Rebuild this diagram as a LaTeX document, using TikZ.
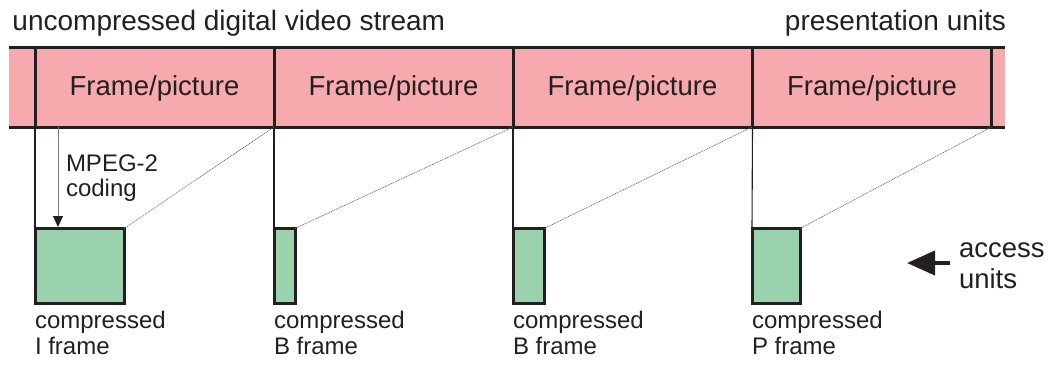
\documentclass[tikz,border=0pt]{standalone}
\usepackage{fontspec}
\setmainfont{Liberation Sans}
\usetikzlibrary{arrows.meta}
\definecolor{ink}{HTML}{231F20}
\definecolor{framepink}{HTML}{F6AAAD}
\definecolor{aufill}{HTML}{99D2AC}
\begin{document}
\begin{tikzpicture}[x=1pt,y=-1pt,
  every node/.style={inner sep=0pt,outer sep=0pt,text=ink},
  cell/.style={minimum width=239pt,minimum height=80pt,font=\fontsize{27.5}{32}\selectfont},
  au/.style={draw=ink,line width=3pt,fill=aufill,minimum height=75pt},
  thick rule/.style={draw=ink,line width=3pt},
  guide/.style={draw=ink,line width=1.1pt},
  slant/.style={draw=ink!70,line width=0.7pt,dash pattern=on 1pt off 0.8pt},
  caption/.style={anchor=base west,align=left,font=\fontsize{24}{26}\selectfont},
  heading/.style={anchor=base west,font=\fontsize{28}{33}\selectfont}
]
\useasboundingbox (0,0) rectangle (1058,365);

% presentation-unit band
\fill[framepink] (9,47) rectangle (1005,127);
\node[cell] (f1) at (154.5,87) {};
\node[cell] (f2) at (393.5,87) {};
\node[cell] (f3) at (632.5,87) {};
\node[cell] (f4) at (872,87) {};
\foreach \f in {f1,f2,f3,f4}
  \node[font=\fontsize{27.5}{32}\selectfont,anchor=base] at ([yshift=-8.5pt]\f.center) {Frame/picture};
\draw[thick rule] (9,47) -- (1005,47);
\draw[thick rule] (9,127) -- (1005,127);
\foreach \f in {f1,f2,f3,f4}
  \draw[thick rule] (\f.north west) -- (\f.south west);
\draw[thick rule] (f4.north east) -- (f4.south east);

% headings
\node[heading] (hl) at (12.5,30) {uncompressed digital video stream};
\node[heading,anchor=base east] (hr) at (1006,30) {presentation units};

% access units
\node[au,minimum width=89pt] (aI) at (79.5,266) {};
\node[au,minimum width=21pt] (aB1) at (284.5,266) {};
\node[au,minimum width=31pt] (aB2) at (528.5,266) {};
\node[au,minimum width=48pt] (aP) at (776,266) {};

% links from each picture to its coded unit
\draw[guide] (f1.south west) -- (aI.north west);
\draw[guide] (f2.south west) -- (aB1.north west);
\draw[guide] (f3.south west) -- (aB2.north west);
\draw[guide] (f4.south west) -- (aP.north west);
\draw[slant] (aI.north east) -- (f1.south east);
\draw[slant] (aB1.north east) -- (f2.south east);
\draw[slant] (aB2.north east) -- (f3.south east);
\draw[slant] (aP.north east) -- (f4.south east);

% coding step
\coordinate (cstart) at ([xshift=23pt]f1.south west);
\coordinate (cend) at ([xshift=23pt]aI.north west);
\draw[draw=ink!60,line width=1pt,-{Triangle[length=11pt,width=10pt,color=ink]}] (cstart) -- ([yshift=1.5pt]cend);
\node[anchor=base west,align=left,font=\fontsize{24}{25}\selectfont] (mp) at (66,196.5) {MPEG-2\\coding};

% captions (base anchor sits on the last line)
\node[caption] (cI) at (35,354) {compressed\\I frame};
\node[caption] (cB1) at (274,354) {compressed\\B frame};
\node[caption] (cB2) at (513,354) {compressed\\B frame};
\node[caption] (cP) at (752,354) {compressed\\P frame};

% access unit marker
\node[anchor=base west,align=left,font=\fontsize{27.5}{31}\selectfont] (acc) at (959,288) {access\\units};
\coordinate (atail) at (950,263);
\draw[draw=ink,line width=4pt,-{Triangle[length=28pt,width=24pt]}] (atail) -- (907,263);
\end{tikzpicture}
\end{document}
